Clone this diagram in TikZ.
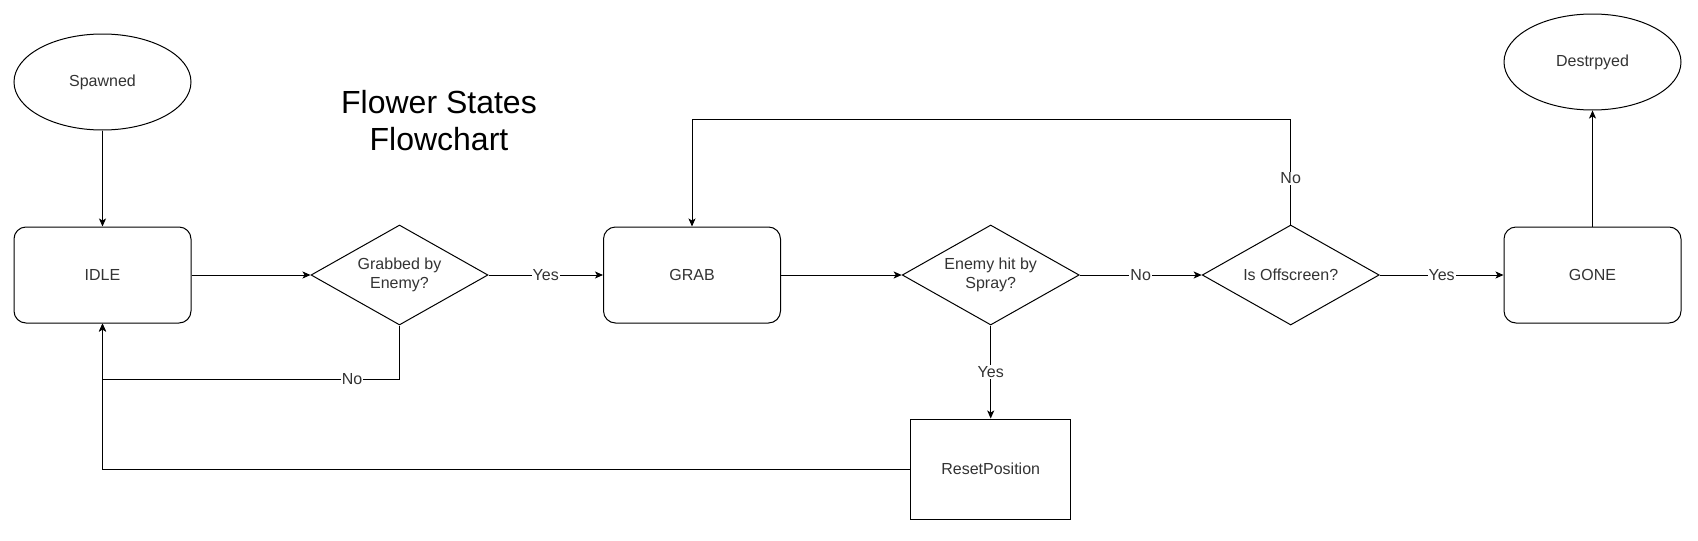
\documentclass[tikz,border=0pt]{standalone}
\usepackage{fontspec}
\setmainfont{Liberation Sans}
\usetikzlibrary{shapes.geometric,arrows.meta}
\begin{document}
\begin{tikzpicture}[x=1pt,y=-1pt,
  every node/.style={font=\fontsize{16}{19}\selectfont, text=black!80},
  shp/.style={draw, line width=1pt, inner sep=0pt, align=center},
  oval/.style={shp, ellipse, minimum width=177pt, minimum height=96pt},
  rbox/.style={shp, rectangle, rounded corners=12pt, minimum width=177pt, minimum height=96pt},
  sbox/.style={shp, rectangle, minimum width=160pt, minimum height=100pt},
  dia/.style={shp, diamond, aspect=1.77, minimum width=177pt, minimum height=100pt},
  arr/.style={line width=1pt, -{Stealth[length=8pt,width=7pt,inset=2pt]}},
  lbl/.style={fill=white, inner sep=1pt}
]
\useasboundingbox[fill=white] (0,0) rectangle (1698,541);

\node[oval] (spawn) at (102.5,82) {Spawned};
\node[rbox] (idle) at (102.5,275) {IDLE};
\node[dia] (d1) at (399.5,275) {Grabbed by\\Enemy?};
\node[rbox] (grab) at (692,275) {GRAB};
\node[dia] (d2) at (990.7,275) {Enemy hit by\\Spray?};
\node[dia] (d3) at (1290.7,275) {Is Offscreen?};
\node[rbox] (gone) at (1592.5,275) {GONE};
\node[oval] (dest) at (1592.5,62) {Destrpyed};
\node[sbox] (reset) at (990.7,469) {ResetPosition};
\node[font=\fontsize{32}{37}\selectfont, text=black, align=center] (title) at (439,121) {Flower States\\Flowchart};

\coordinate (n1) at (399.5,379);
\coordinate (n2) at (102.5,379);
\coordinate (r1) at (102.5,469);
\coordinate (t1) at (1290.7,119);
\coordinate (t2) at (692,119);

\draw[arr] (spawn) -- (idle);
\draw[arr] (idle) -- (d1);
\draw[arr] (d1) -- node[lbl]{Yes} (grab);
\draw[arr] (grab) -- (d2);
\draw[arr] (d2) -- node[lbl]{No} (d3);
\draw[arr] (d3) -- node[lbl]{Yes} (gone);
\draw[arr] (gone) -- (dest);
\draw[arr] (d2) -- node[lbl]{Yes} (reset);
\draw[arr] (d1.south) -- (n1) -- node[lbl, pos=0.16]{No} (n2) -- (idle.south);
\draw[arr] (reset.west) -- (r1) -- (idle.south);
\draw[arr] (d3.north) -- node[lbl, pos=0.44]{No} (t1) -- (t2) -- (grab.north);
\end{tikzpicture}
\end{document}
